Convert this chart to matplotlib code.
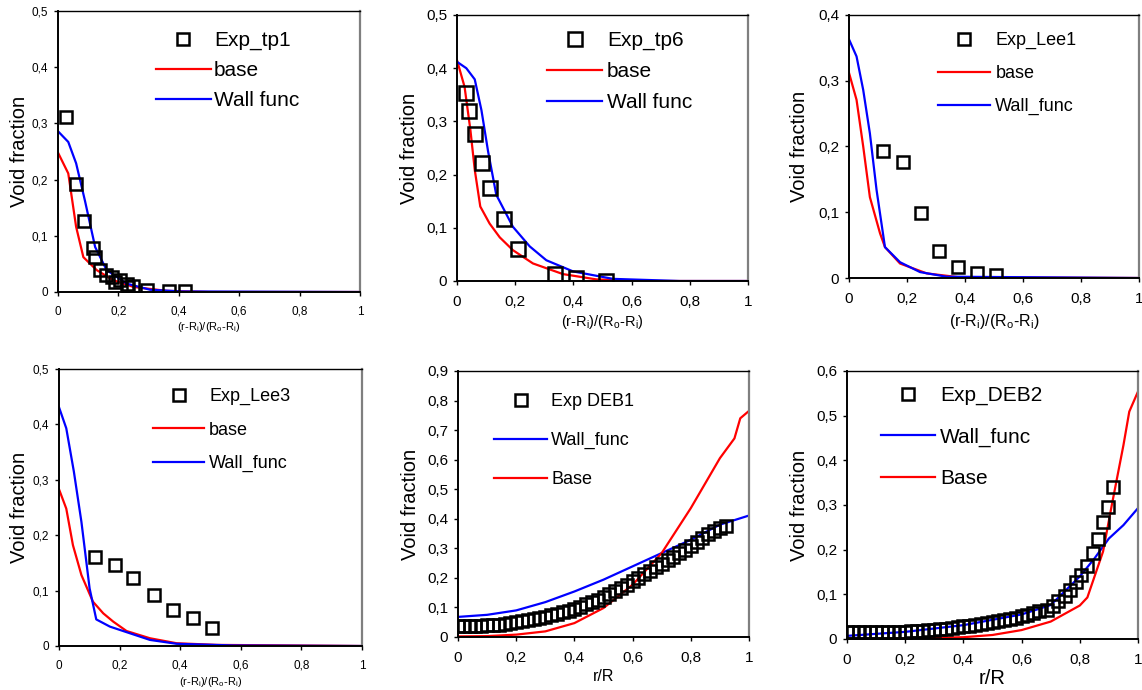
import matplotlib
matplotlib.use("Agg")
import matplotlib.pyplot as plt
from matplotlib.ticker import FuncFormatter, MultipleLocator

plt.rcParams['font.family'] = ['Liberation Sans', 'DejaVu Sans']
plt.rcParams['mathtext.fontset'] = 'custom'
plt.rcParams['mathtext.rm'] = 'Liberation Sans'

# ---- tp1 ----
tp1_exp_x = [0.025, 0.06, 0.086, 0.115, 0.123, 0.139, 0.159, 0.178, 0.189, 0.205,
             0.227, 0.233, 0.249, 0.294, 0.369, 0.42]
tp1_exp_y = [0.312, 0.193, 0.126, 0.079, 0.062, 0.040, 0.031, 0.027, 0.018, 0.021,
             0.015, 0.009, 0.010, 0.003, 0.002, 0.002]
tp1_base_x = [0, 0.034, 0.06, 0.084, 0.128, 0.183, 0.25, 0.36, 0.5, 1.0]
tp1_base_y = [0.248, 0.211, 0.116, 0.062, 0.039, 0.021, 0.009, 0.002, 0.0, 0.0]
tp1_wall_x = [0, 0.034, 0.06, 0.089, 0.123, 0.161, 0.227, 0.305, 0.41, 1.0]
tp1_wall_y = [0.286, 0.267, 0.229, 0.163, 0.080, 0.039, 0.015, 0.004, 0.001, 0.0]

# ---- tp6 ----
tp6_exp_x = [0.030, 0.041, 0.061, 0.087, 0.112, 0.160, 0.210, 0.336, 0.41, 0.511]
tp6_exp_y = [0.354, 0.320, 0.276, 0.222, 0.174, 0.116, 0.060, 0.013, 0.006, 0.0]
tp6_base_x = [0, 0.026, 0.046, 0.061, 0.080, 0.112, 0.147, 0.192, 0.261, 0.364, 0.479, 0.65, 1.0]
tp6_base_y = [0.415, 0.365, 0.284, 0.209, 0.140, 0.108, 0.082, 0.058, 0.033, 0.013, 0.003, 0.0, 0.0]
tp6_wall_x = [0, 0.032, 0.061, 0.084, 0.107, 0.135, 0.192, 0.25, 0.307, 0.399, 0.536, 0.765, 1.0]
tp6_wall_y = [0.412, 0.400, 0.379, 0.321, 0.243, 0.162, 0.102, 0.065, 0.039, 0.018, 0.004, 0.0, 0.0]

# ---- Lee1 ----
lee1_exp_x = [0.118, 0.185, 0.248, 0.311, 0.377, 0.44, 0.506]
lee1_exp_y = [0.193, 0.176, 0.099, 0.041, 0.017, 0.008, 0.004]
lee1_base_x = [0, 0.026, 0.049, 0.072, 0.107, 0.124, 0.176, 0.268, 0.382, 1.0]
lee1_base_y = [0.312, 0.271, 0.200, 0.123, 0.068, 0.047, 0.022, 0.007, 0.001, 0.0]
lee1_wall_x = [0, 0.026, 0.049, 0.072, 0.095, 0.124, 0.176, 0.245, 0.336, 1.0]
lee1_wall_y = [0.363, 0.337, 0.286, 0.220, 0.134, 0.047, 0.024, 0.009, 0.002, 0.0]

# ---- Lee3 ----
lee3_exp_x = [0.120, 0.184, 0.245, 0.313, 0.377, 0.443, 0.506]
lee3_exp_y = [0.161, 0.147, 0.123, 0.092, 0.065, 0.050, 0.033]
lee3_base_x = [0, 0.024, 0.046, 0.074, 0.112, 0.146, 0.179, 0.223, 0.30, 0.388, 0.52, 1.0]
lee3_base_y = [0.283, 0.248, 0.182, 0.128, 0.080, 0.059, 0.044, 0.027, 0.014, 0.005, 0.002, 0.0]
lee3_wall_x = [0, 0.024, 0.049, 0.074, 0.101, 0.123, 0.168, 0.223, 0.30, 0.388, 0.575, 1.0]
lee3_wall_y = [0.431, 0.393, 0.315, 0.224, 0.104, 0.048, 0.035, 0.025, 0.011, 0.004, 0.001, 0.0]

# ---- DEB1 ----
deb1_exp_x = [0.00, 0.02, 0.04, 0.06, 0.08, 0.10, 0.12, 0.14, 0.16, 0.18, 0.20, 0.22,
              0.24, 0.26, 0.28, 0.30, 0.32, 0.34, 0.36, 0.38, 0.40, 0.42, 0.44, 0.46,
              0.48, 0.50, 0.52, 0.54, 0.56, 0.58, 0.60, 0.62, 0.64, 0.66, 0.68, 0.70,
              0.72, 0.74, 0.76, 0.78, 0.80, 0.82, 0.84, 0.86, 0.88, 0.90, 0.92]
deb1_exp_y = [0.036, 0.036, 0.037, 0.037, 0.038, 0.039, 0.040, 0.042, 0.044, 0.047, 0.050, 0.053,
              0.056, 0.060, 0.064, 0.068, 0.073, 0.078, 0.083, 0.089, 0.095, 0.102, 0.110, 0.118,
              0.126, 0.135, 0.145, 0.155, 0.165, 0.176, 0.188, 0.200, 0.212, 0.224, 0.236, 0.248,
              0.260, 0.272, 0.284, 0.296, 0.308, 0.322, 0.336, 0.348, 0.360, 0.370, 0.374]
deb1_wall_x = [0, 0.1, 0.2, 0.3, 0.4, 0.5, 0.6, 0.7, 0.8, 0.9, 1.0]
deb1_wall_y = [0.068, 0.075, 0.090, 0.118, 0.154, 0.194, 0.239, 0.284, 0.329, 0.380, 0.411]
deb1_base_x = [0, 0.1, 0.2, 0.3, 0.4, 0.5, 0.6, 0.7, 0.8, 0.9, 0.95, 0.97, 1.0]
deb1_base_y = [0.002, 0.003, 0.008, 0.019, 0.047, 0.098, 0.177, 0.284, 0.436, 0.605, 0.672, 0.740, 0.765]

# ---- DEB2 ----
deb2_exp_x = [0.00, 0.02, 0.04, 0.06, 0.08, 0.10, 0.12, 0.14, 0.16, 0.18, 0.20, 0.22,
              0.24, 0.26, 0.28, 0.30, 0.32, 0.34, 0.36, 0.38, 0.40, 0.42, 0.44, 0.46,
              0.48, 0.50, 0.52, 0.54, 0.56, 0.58, 0.60, 0.62, 0.64, 0.66, 0.687, 0.708,
              0.725, 0.748, 0.765, 0.786, 0.805, 0.825, 0.845, 0.862, 0.88, 0.897, 0.914]
deb2_exp_y = [0.015, 0.015, 0.015, 0.015, 0.015, 0.015, 0.015, 0.015, 0.015, 0.015, 0.016, 0.017,
              0.018, 0.019, 0.020, 0.021, 0.022, 0.023, 0.025, 0.026, 0.028, 0.029, 0.031, 0.033,
              0.036, 0.038, 0.040, 0.042, 0.045, 0.048, 0.051, 0.054, 0.058, 0.062, 0.066, 0.073,
              0.084, 0.097, 0.110, 0.127, 0.143, 0.164, 0.192, 0.225, 0.263, 0.295, 0.341]
deb2_wall_x = [0, 0.2, 0.4, 0.6, 0.7, 0.8, 0.85, 0.9, 0.95, 1.0]
deb2_wall_y = [0.007, 0.016, 0.031, 0.055, 0.076, 0.140, 0.180, 0.225, 0.255, 0.293]
deb2_base_x = [0, 0.2, 0.4, 0.5, 0.6, 0.7, 0.8, 0.826, 0.88, 0.91, 0.95, 0.97, 1.0]
deb2_base_y = [0.0, 0.001, 0.004, 0.009, 0.020, 0.039, 0.075, 0.093, 0.196, 0.300, 0.434, 0.509, 0.554]

RED = '#ff0000'
BLUE = '#0000ff'
W, H = 1142, 690
XLAB_RI = r'(r-R$\mathregular{_i}$)/(R$\mathregular{_o}$-R$\mathregular{_i}$)'


def comma(v, pos):
    if abs(v) < 1e-9:
        return '0'
    if abs(v - 1) < 1e-9:
        return '1'
    return ('%.1f' % v).replace('.', ',')


def make_ax(fig, px):
    # px = (left, top, right, bottom) of the plot area in pixels
    l, t, r, b = px
    ax = fig.add_axes([l / W, 1 - b / H, (r - l) / W, (b - t) / H])
    for s in ['left', 'bottom', 'top']:
        ax.spines[s].set_color('black')
    ax.spines['left'].set_linewidth(1.4)
    ax.spines['bottom'].set_linewidth(1.4)
    ax.spines['top'].set_linewidth(1.0)
    ax.spines['right'].set_color('#7f7f7f')
    ax.spines['right'].set_linewidth(1.6)
    return ax


def style(ax, ymax, ystep, tick_fs, xlabel, xlab_fs, xlab_y, ylab_x):
    ax.set_xlim(0, 1)
    ax.set_ylim(0, ymax)
    ax.xaxis.set_major_locator(MultipleLocator(0.2))
    ax.yaxis.set_major_locator(MultipleLocator(ystep))
    ax.xaxis.set_major_formatter(FuncFormatter(comma))
    ax.yaxis.set_major_formatter(FuncFormatter(comma))
    ax.tick_params(direction='out', length=3, width=1, labelsize=tick_fs,
                   colors='black', pad=4)
    ax.tick_params(axis='x', pad=7)
    ax.set_xlabel(xlabel, fontsize=xlab_fs, va='center')
    ax.xaxis.set_label_coords(0.5, xlab_y)
    ax.set_ylabel('Void fraction', fontsize=14.5, va='center')
    ax.yaxis.set_label_coords(ylab_x, 0.5)


def legend(ax, x, ytop, fs, hl, ls, htp):
    ax.legend(loc='upper left', bbox_to_anchor=(x / W, 1 - ytop / H),
              bbox_transform=ax.figure.transFigure, frameon=False,
              fontsize=fs, handlelength=hl, labelspacing=ls,
              handletextpad=htp, borderpad=0, borderaxespad=0)


def exp(ax, x, y, label, ms):
    ax.plot(x, y, linestyle='none', marker='s', markersize=ms,
            markerfacecolor='none', markeredgecolor='black',
            markeredgewidth=1.8, label=label, zorder=3)


fig = plt.figure(figsize=(W / 100, H / 100), dpi=100)
fig.patch.set_facecolor('white')

# panel 1
ax = make_ax(fig, (58, 11, 360, 292))
exp(ax, tp1_exp_x, tp1_exp_y, 'Exp_tp1', 9)
ax.plot(tp1_base_x, tp1_base_y, color=RED, lw=1.6, label='base')
ax.plot(tp1_wall_x, tp1_wall_y, color=BLUE, lw=1.6, label='Wall func')
style(ax, 0.5, 0.1, 8.5, XLAB_RI, 8, -0.125, -0.126)
legend(ax, 156, 31, 15, 2.64, 0.53, 0.15)

# panel 2
ax = make_ax(fig, (457, 15, 748, 281))
exp(ax, tp6_exp_x, tp6_exp_y, 'Exp_tp6', 10)
ax.plot(tp6_base_x, tp6_base_y, color=RED, lw=1.6, label='base')
ax.plot(tp6_wall_x, tp6_wall_y, color=BLUE, lw=1.6, label='Wall func')
style(ax, 0.5, 0.1, 11, XLAB_RI, 10.5, -0.154, -0.162)
legend(ax, 547, 31, 15, 2.64, 0.57, 0.24)

# panel 3
ax = make_ax(fig, (849, 15, 1139, 278))
exp(ax, lee1_exp_x, lee1_exp_y, 'Exp_Lee1', 9)
ax.plot(lee1_base_x, lee1_base_y, color=RED, lw=1.6, label='base')
ax.plot(lee1_wall_x, lee1_wall_y, color=BLUE, lw=1.6, label='Wall_func')
style(ax, 0.4, 0.1, 11, XLAB_RI, 11.5, -0.167, -0.169)
legend(ax, 938, 32, 13, 2.9, 0.88, 0.28)

# panel 4
ax = make_ax(fig, (59, 369, 362, 646))
exp(ax, lee3_exp_x, lee3_exp_y, 'Exp_Lee3', 9)
ax.plot(lee3_base_x, lee3_base_y, color=RED, lw=1.6, label='base')
ax.plot(lee3_wall_x, lee3_wall_y, color=BLUE, lw=1.6, label='Wall_func')
style(ax, 0.5, 0.1, 8.5, XLAB_RI, 8, -0.13, -0.129)
legend(ax, 153, 388, 13, 2.83, 0.91, 0.28)

# panel 5
ax = make_ax(fig, (458, 371, 749, 637))
exp(ax, deb1_exp_x, deb1_exp_y, 'Exp DEB1', 8)
ax.plot(deb1_wall_x, deb1_wall_y, color=BLUE, lw=1.6, label='Wall_func')
ax.plot(deb1_base_x, deb1_base_y, color=RED, lw=1.6, label='Base')
style(ax, 0.9, 0.1, 11, 'r/R', 11.5, -0.15, -0.162)
legend(ax, 494, 393, 13, 2.94, 1.22, 0.22)

# panel 6
ax = make_ax(fig, (847, 371, 1138, 639))
exp(ax, deb2_exp_x, deb2_exp_y, 'Exp_DEB2', 8.5)
ax.plot(deb2_wall_x, deb2_wall_y, color=BLUE, lw=1.6, label='Wall_func')
ax.plot(deb2_base_x, deb2_base_y, color=RED, lw=1.6, label='Base')
style(ax, 0.6, 0.1, 11, 'r/R', 14.5, -0.146, -0.162)
legend(ax, 881, 386, 15, 2.6, 1.08, 0.24)

fig.savefig('out.png', dpi=100)
